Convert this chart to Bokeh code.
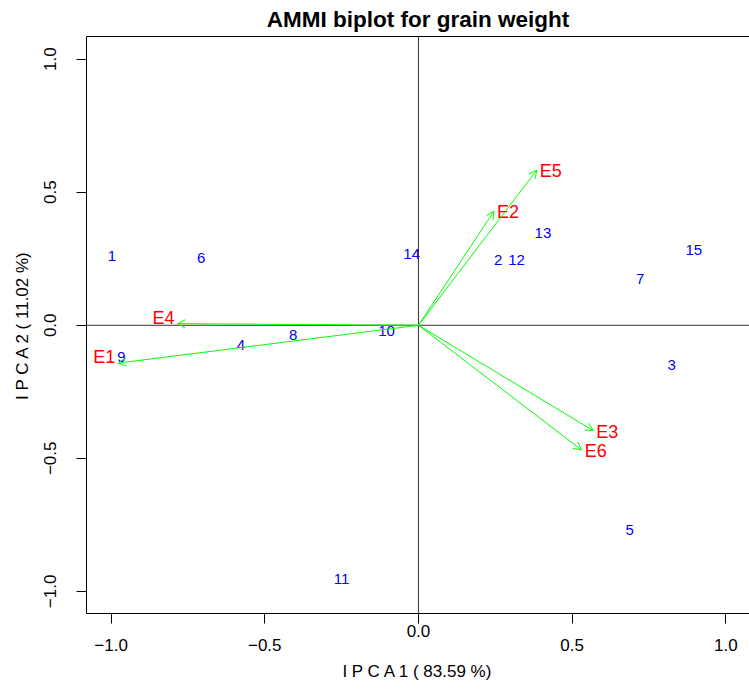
from bokeh.plotting import figure
from bokeh.models import (ColumnDataSource, Arrow, OpenHead, Span,
                          LinearAxis, FixedTicker, Range1d)
from bokeh.core.properties import value
from bokeh.embed import file_html
from bokeh.resources import INLINE

# ---- data ----
title_text = "AMMI biplot for grain weight"
x_label = "I P C A 1 ( 83.59 %)"
y_label = "I P C A 2 ( 11.02 %)"

genotypes = ["1", "2", "3", "4", "5", "6", "7", "8", "9", "10",
             "11", "12", "13", "14", "15"]
gen_pc1 = [-0.997, 0.259, 0.824, -0.578, 0.687, -0.707, 0.721, -0.408,
           -0.966, -0.104, -0.250, 0.319, 0.405, -0.022, 0.896]
gen_pc2 = [0.259, 0.247, -0.151, -0.073, -0.770, 0.253, 0.174, -0.036,
           -0.118, -0.023, -0.955, 0.247, 0.345, 0.268, 0.284]

environments = ["E1", "E2", "E3", "E4", "E5", "E6"]
env_pc1 = [-0.977, 0.246, 0.569, -0.784, 0.385, 0.531]
env_pc2 = [-0.142, 0.429, -0.396, 0.006, 0.583, -0.469]

tick_values = [-1.0, -0.5, 0.0, 0.5, 1.0]
tick_labels = ["\u22121.0", "\u22120.5", "0.0", "0.5", "1.0"]

FONT = "Liberation Sans"
GREEN = "#00FF00"

p = figure(width=749, height=684, output_backend="svg", toolbar_location=None,
           x_range=Range1d(-1.08, 1.077), y_range=Range1d(-1.083, 1.085),
           x_axis_type=None, y_axis_type=None,
           min_border_left=86, min_border_right=0, min_border_top=0,
           min_border_bottom=71)
p.outline_line_color = None
p.xgrid.visible = False
p.ygrid.visible = False
p.background_fill_color = "white"
p.border_fill_color = "white"

p.title.text = title_text
p.title.align = "center"
p.title.text_font = FONT
p.title.text_font_size = "22.5px"
p.title.text_font_style = "bold"
p.title.text_color = "black"
p.title.standoff = 9

def style_axis(ax, overrides):
    ax.ticker = FixedTicker(ticks=tick_values)
    ax.major_label_overrides = overrides
    ax.minor_tick_line_color = None
    ax.major_tick_in = 0
    ax.major_tick_out = 10
    ax.major_tick_line_color = "black"
    ax.axis_line_color = "black"
    ax.major_label_text_font = FONT
    ax.major_label_text_font_size = "17px"
    ax.major_label_text_color = "black"
    ax.axis_label_text_font = FONT
    ax.axis_label_text_font_size = "17px"
    ax.axis_label_text_font_style = "normal"
    ax.axis_label_text_color = "black"

# bottom axis: the 0.0 label sits one (short) line higher than the others
bottom_over = {v: (l if v == 0 else "\n" + l) for v, l in zip(tick_values, tick_labels)}
xaxis = LinearAxis(axis_label=x_label)
style_axis(xaxis, bottom_over)
xaxis.major_label_text_line_height = 0.75
xaxis.major_label_standoff = -2
xaxis.axis_label_standoff = 4
p.add_layout(xaxis, "below")

left_over = {v: l for v, l in zip(tick_values, tick_labels)}
yaxis = LinearAxis(axis_label=y_label)
style_axis(yaxis, left_over)
yaxis.major_label_orientation = "vertical"
yaxis.major_label_standoff = 20
yaxis.axis_label_standoff = 10
p.add_layout(yaxis, "left")

# top border line
top = LinearAxis()
top.ticker = FixedTicker(ticks=[])
top.major_tick_line_color = None
top.minor_tick_line_color = None
top.major_label_text_font_size = "0px"
top.major_label_standoff = 0
top.axis_line_color = "black"
p.add_layout(top, "above")

# zero reference lines
p.add_layout(Span(location=0, dimension="height", line_color="#333333", line_width=1))
p.add_layout(Span(location=0, dimension="width", line_color="#333333", line_width=1))

# environment arrows
arr_src = ColumnDataSource(dict(x0=[0.0] * len(env_pc1), y0=[0.0] * len(env_pc2),
                                x1=env_pc1, y1=env_pc2))
p.add_layout(Arrow(end=OpenHead(size=8, line_color=GREEN, line_width=1),
                   x_start="x0", y_start="y0", x_end="x1", y_end="y1",
                   source=arr_src, line_color=GREEN, line_width=1))

# environment labels
right_idx = [i for i, v in enumerate(env_pc1) if v >= 0]
left_idx = [i for i, v in enumerate(env_pc1) if v < 0]
src_r = ColumnDataSource(dict(x=[env_pc1[i] for i in right_idx],
                              y=[env_pc2[i] for i in right_idx],
                              t=[environments[i] for i in right_idx]))
src_l = ColumnDataSource(dict(x=[env_pc1[i] for i in left_idx],
                              y=[env_pc2[i] for i in left_idx],
                              t=[environments[i] for i in left_idx]))
p.text(x="x", y="y", text="t", source=src_r, text_align="left",
       text_baseline="middle", x_offset=3, y_offset=1, text_color="#FF0000",
       text_font=value(FONT), text_font_size="18px")
p.text(x="x", y="y", text="t", source=src_l, text_align="right",
       text_baseline="middle", x_offset=-3, y_offset=-6, text_color="#FF0000",
       text_font=value(FONT), text_font_size="18px")

# genotype labels
gen_src = ColumnDataSource(dict(x=gen_pc1, y=gen_pc2, t=genotypes))
p.text(x="x", y="y", text="t", source=gen_src, text_align="center",
       text_baseline="middle", text_color="#0000FF",
       text_font=value(FONT), text_font_size="15px")

open("out.html", "w").write(file_html(p, INLINE))
